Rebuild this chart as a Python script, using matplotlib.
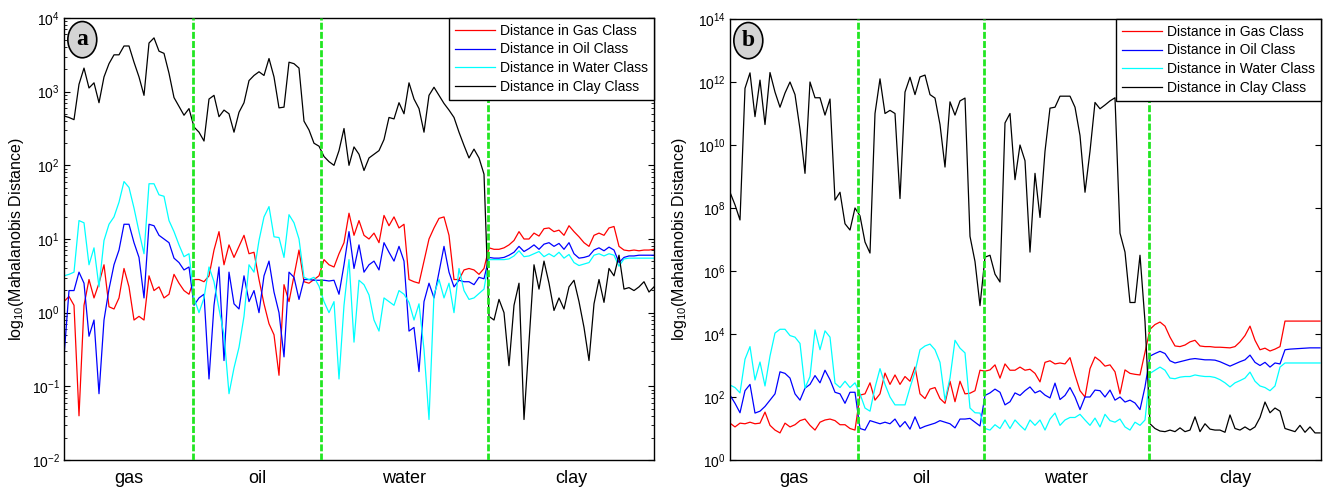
import numpy as np
import matplotlib.pyplot as plt
from matplotlib import ticker
from matplotlib.patches import Ellipse

plt.rcParams.update({
    'font.family': ['Liberation Sans', 'DejaVu Sans'],
    'mathtext.fontset': 'custom',
    'mathtext.rm': 'Liberation Sans',
    'mathtext.it': 'Liberation Sans:italic',
    'axes.linewidth': 1.0,
})

classes = ['gas', 'oil', 'water', 'clay']
labels = ['Distance in Gas Class', 'Distance in Oil Class',
          'Distance in Water Class', 'Distance in Clay Class']

# class boundaries (sample index) and right end of each panel
a_bounds = [25.8, 51.4, 84.8]
a_xmax = 118
b_bounds = [25.6, 50.8, 83.8]
b_xmax = 118.2

# ---- panel (a): log10 of distance ----
a_gas = [0.15, 0.22, 0.1, -1.4, 0.1, 0.45, 0.2, 0.4, 0.65, 0.08,
         0.05, 0.2, 0.6, 0.35, -0.1, -0.05, -0.1, 0.5, 0.3, 0.35,
         0.2, 0.25, 0.52, 0.4, 0.3, 0.25, 0.45, 0.45, 0.42, 0.5,
         0.85, 1.1, 0.65, 0.92, 0.75, 0.9, 1.05, 0.8, 0.82, 0.45,
         0.12, -0.15, -0.3, -0.85, 0.38, 0.15, 0.5, 0.85, 0.42, 0.4,
         0.45, 0.5, 0.72, 0.65, 0.62, 0.8, 0.95, 1.35, 1.05, 1.25,
         1.05, 1.0, 1.08, 0.95, 1.32, 1.18, 1.3, 1.15, 1.2, 0.45,
         0.42, 0.4, 0.7, 1.0, 1.15, 1.28, 1.3, 1.05, 0.45, 0.45,
         0.58, 0.6, 0.58, 0.52, 0.6, 0.88, 0.86, 0.86, 0.88, 0.92,
         0.98, 1.1, 1.0, 1.0, 1.08, 1.04, 1.14, 1.15, 1.1, 1.12,
         1.05, 1.18, 1.1, 1.03, 0.95, 0.9, 1.05, 1.08, 1.05, 1.15,
         1.17, 0.9, 0.85, 0.84, 0.85, 0.84, 0.85, 0.85, 0.86]
a_oil = [-0.6, 0.3, 0.3, 0.55, 0.4, -0.32, -0.1, -1.1, -0.1, 0.32,
         0.65, 0.85, 1.2, 1.2, 0.95, 0.75, 0.2, 1.2, 1.18, 1.05,
         1.0, 0.95, 0.74, 0.68, 0.58, 0.62, 0.1, 0.2, 0.25, -0.9,
         0.1, 0.62, -0.65, 0.55, 0.12, 0.05, 0.5, 0.15, 0.3, 0.0,
         0.5, 0.7, 0.28, 0.0, -0.6, 0.55, 0.48, 0.18, 0.45, 0.45,
         0.44, 0.44, 0.44, 0.43, 0.44, 0.25, 0.65, 1.1, 0.6, 0.92,
         0.55, 0.65, 0.7, 0.58, 0.95, 0.82, 0.7, 0.9, 0.7, -0.25,
         -0.2, -0.8, 0.15, 0.4, 0.2, 0.55, 0.9, 0.55, 0.35, 0.44,
         0.42, 0.42, 0.38, 0.48, 0.46, 0.75, 0.74, 0.74, 0.75, 0.78,
         0.82, 0.9, 0.83, 0.87, 0.92, 0.86, 0.93, 0.95, 0.9, 0.94,
         0.86, 0.95, 0.8, 0.74, 0.75, 0.77, 0.85, 0.88, 0.84, 0.89,
         0.85, 0.68, 0.75, 0.77, 0.77, 0.78, 0.78, 0.78, 0.78]
a_water = [0.5, 0.52, 0.55, 1.25, 1.22, 0.65, 0.88, 0.35, 0.98, 1.2,
           1.3, 1.5, 1.78, 1.7, 1.42, 1.1, 0.8, 1.75, 1.75, 1.6,
           1.58, 1.25, 1.1, 0.92, 0.76, 0.8, 0.2, 0.0, 0.2, 0.62,
           0.42, 0.05, -0.3, -1.1, -0.75, -0.47, -0.05, 0.65, 0.55, 0.98,
           1.3, 1.44, 1.03, 1.02, 0.75, 1.33, 1.22, 1.0, 0.48, 0.45,
           0.48, 0.36, 0.15, 0.0, 0.15, -0.9, 0.1, 0.72, -0.4, 0.44,
           0.38, 0.24, -0.1, -0.25, 0.2, 0.15, 0.1, 0.3, 0.25, 0.14,
           -0.1, 0.12, -0.5, -1.45, 0.25, 0.45, 0.2, 0.4, 0.0, 0.6,
           0.3, 0.18, 0.2, 0.26, 0.32, 0.72, 0.72, 0.72, 0.72, 0.73,
           0.77, 0.84, 0.76, 0.77, 0.8, 0.83, 0.76, 0.8, 0.76, 0.82,
           0.74, 0.79, 0.68, 0.64, 0.66, 0.68, 0.78, 0.8, 0.77, 0.8,
           0.78, 0.63, 0.73, 0.74, 0.74, 0.74, 0.74, 0.74, 0.74]
a_clay = [2.67, 2.65, 2.62, 3.1, 3.32, 3.05, 3.12, 2.85, 3.2, 3.38,
          3.5, 3.5, 3.62, 3.62, 3.4, 3.2, 2.95, 3.66, 3.73, 3.55,
          3.52, 3.25, 2.92, 2.8, 2.68, 2.77, 2.52, 2.45, 2.33, 2.9,
          2.95, 2.66, 2.75, 2.7, 2.45, 2.72, 2.85, 3.15, 3.22, 3.27,
          3.22, 3.45, 3.2, 2.78, 2.79, 3.4, 3.38, 3.32, 2.6, 2.48,
          2.3, 2.26, 2.12, 2.05, 2.0, 2.2, 2.5, 2.0, 2.25, 2.15,
          1.93, 2.1, 2.15, 2.2, 2.35, 2.65, 2.63, 2.85, 2.7, 3.12,
          2.9, 2.77, 2.45, 2.95, 3.06, 2.95, 2.84, 2.75, 2.65, 2.45,
          2.27, 2.1, 2.22, 2.1, 1.88, -0.05, -0.1, 0.18, 0.0, -0.72,
          0.1, 0.4, -1.45, -0.4, 0.65, 0.32, 0.7, 0.4, 0.03, 0.2,
          0.05, 0.35, 0.44, 0.15, -0.2, -0.65, 0.12, 0.45, 0.14, 0.6,
          0.5, 0.78, 0.32, 0.34, 0.3, 0.35, 0.42, 0.28, 0.35]

# ---- panel (b): log10 of distance ----
b_gas = [1.17, 1.05, 1.17, 1.15, 1.2, 1.15, 1.17, 1.52, 1.1, 0.95,
         0.86, 1.17, 1.05, 1.12, 1.25, 1.3, 1.1, 0.95, 1.2, 1.27,
         1.3, 1.25, 1.12, 1.12, 1.0, 0.95, 2.06, 2.1, 2.45, 1.9,
         2.1, 2.76, 2.4, 2.7, 2.4, 2.65, 2.5, 2.95, 2.1, 1.95,
         2.25, 2.3, 1.95, 1.8, 2.5, 1.85, 2.5, 2.1, 2.12, 2.2,
         2.85, 2.82, 2.86, 3.02, 2.6, 3.05, 2.85, 2.85, 2.95, 2.85,
         2.88, 2.75, 2.48, 3.1, 3.15, 3.05, 3.08, 3.05, 3.25, 2.7,
         2.2, 2.0, 2.9, 3.27, 3.15, 2.98, 3.02, 2.8, 2.1, 2.86,
         2.75, 2.72, 2.7, 3.42, 4.15, 4.3, 4.38, 4.25, 3.9, 3.62,
         3.6, 3.65, 3.75, 3.8, 3.62, 3.6, 3.6, 3.58, 3.58, 3.57,
         3.56, 3.6, 3.75, 3.95, 4.25, 3.8, 3.5, 3.55, 3.46, 3.52,
         3.6, 4.41, 4.41, 4.41, 4.41, 4.41, 4.41, 4.41, 4.41]
b_oil = [2.06, 1.8, 1.5, 2.2, 2.4, 1.49, 1.55, 1.7, 1.9, 2.1,
         2.8, 2.75, 2.6, 2.1, 1.9, 2.28, 2.4, 2.68, 2.45, 2.85,
         2.55, 2.15, 2.1, 1.8, 2.15, 2.15, 1.0, 0.95, 1.25, 1.2,
         1.15, 1.2, 1.15, 1.3, 1.05, 1.22, 0.98, 1.37, 1.0, 1.07,
         1.12, 1.17, 1.25, 1.2, 1.15, 1.02, 1.3, 1.3, 1.32, 1.2,
         1.08, 2.05, 2.13, 2.25, 2.15, 1.75, 1.85, 2.13, 2.05, 2.2,
         2.32, 2.13, 2.2, 2.06, 1.97, 2.44, 1.92, 2.05, 2.3, 2.0,
         1.6, 2.0, 2.0, 2.22, 2.2, 2.0, 2.22, 1.9, 2.0, 1.84,
         1.9, 1.81, 1.6, 2.32, 3.3, 3.38, 3.45, 3.38, 3.15, 3.08,
         3.12, 3.16, 3.2, 3.22, 3.2, 3.18, 3.18, 3.17, 3.12, 3.05,
         2.98, 3.05, 3.12, 3.18, 3.33, 3.1, 3.0, 3.1, 2.95, 3.08,
         3.05, 3.5, 3.52, 3.53, 3.54, 3.55, 3.56, 3.56, 3.56]
b_water = [2.38, 2.3, 2.13, 3.2, 3.6, 2.54, 3.11, 2.35, 3.3, 4.03,
           4.15, 4.15, 3.95, 3.9, 3.7, 2.28, 2.65, 4.13, 3.5, 4.1,
           3.9, 2.44, 2.3, 2.5, 2.3, 2.45, 2.1, 1.65, 1.55, 2.3,
           2.9, 2.4, 2.0, 1.75, 1.75, 1.75, 2.3, 2.8, 3.5, 3.62,
           3.68, 3.5, 3.1, 1.9, 2.6, 3.8, 3.55, 3.4, 1.65, 1.5,
           1.49, 1.0, 0.95, 1.12, 1.0, 1.27, 1.0, 1.27, 1.1, 0.95,
           1.27, 1.1, 1.27, 0.95, 1.3, 1.49, 1.1, 1.27, 1.35, 1.35,
           1.45, 1.27, 1.1, 1.33, 1.05, 1.45, 1.25, 1.2, 1.3, 1.05,
           0.95, 1.2, 1.1, 1.27, 2.75, 2.85, 2.95, 2.85, 2.6, 2.58,
           2.63, 2.65, 2.65, 2.7, 2.67, 2.65, 2.65, 2.62, 2.55, 2.45,
           2.32, 2.45, 2.52, 2.6, 2.79, 2.5, 2.35, 2.3, 2.2, 2.35,
           2.95, 3.08, 3.08, 3.08, 3.08, 3.08, 3.08, 3.08, 3.08]
b_clay = [8.5, 8.1, 7.62, 11.8, 12.29, 10.9, 12.06, 10.65, 12.3, 11.68,
          11.2, 11.65, 12.0, 11.6, 10.5, 9.1, 12.0, 11.5, 11.5, 10.95,
          11.46, 8.25, 8.5, 7.5, 7.3, 8.0, 7.75, 6.92, 6.57, 11.0,
          12.1, 11.0, 11.1, 11.0, 8.3, 11.68, 12.15, 11.6, 12.16, 12.22,
          11.6, 11.49, 10.65, 9.3, 11.37, 10.95, 11.4, 11.49, 7.1, 6.3,
          4.9, 6.44, 6.5, 5.9, 5.65, 10.7, 11.0, 8.9, 10.0, 9.5,
          6.6, 9.1, 7.7, 9.8, 11.17, 11.2, 11.55, 11.55, 11.55, 11.2,
          10.3, 8.5, 9.8, 11.35, 11.15, 11.27, 11.4, 11.5, 7.2, 6.6,
          5.0, 5.0, 6.5, 4.4, 1.15, 1.0, 0.92, 0.9, 0.95, 0.9,
          1.02, 0.9, 0.95, 1.37, 0.9, 1.15, 0.98, 0.95, 0.95, 0.88,
          1.43, 1.0, 0.95, 1.05, 0.95, 1.05, 1.35, 1.84, 1.5, 1.65,
          1.55, 1.0, 0.95, 0.9, 1.1, 0.88, 1.05, 0.86, 0.86]

colors = ['#ff0000', '#0000ff', '#00ffff', '#000000']
green = '#22e622'


def draw_panel(ax, series, bounds, xmax, ylim, letter):
    x = np.arange(len(series[0]))
    for vals, c, lab in zip(series, colors, labels):
        ax.plot(x, 10.0 ** np.array(vals), color=c, linewidth=0.9, label=lab)
    for b in bounds:
        ax.axvline(b, color=green, linewidth=2, linestyle=(0, (2.5, 0.8)), zorder=3)
    ax.set_yscale('log')
    ax.set_ylim(*ylim)
    ax.set_xlim(0, xmax)
    edges = [0] + bounds + [xmax]
    centers = [(edges[k] + edges[k + 1]) / 2 for k in range(4)]
    ax.set_xticks(centers)
    ax.set_xticklabels(classes)
    ax.tick_params(axis='x', length=0, labelsize=13, pad=7)
    ax.tick_params(axis='y', which='both', direction='in', right=True,
                   labelsize=10, pad=3)
    ax.tick_params(axis='y', which='major', length=4)
    ax.tick_params(axis='y', which='minor', length=2.5)
    ax.set_ylabel('log$_{10}$(Mahalanobis Distance)', fontsize=11.5)

    leg = ax.legend(loc='upper right', bbox_to_anchor=(1, 1), borderaxespad=0,
                    fontsize=10, fancybox=False, framealpha=1, edgecolor='black',
                    handlelength=2.9, handletextpad=0.4, labelspacing=0.35,
                    borderpad=0.4)
    leg.get_frame().set_linewidth(1.0)

    ell = Ellipse((0.031, 0.951), 0.049, 0.082, transform=ax.transAxes,
                  facecolor='#d4d4d4', edgecolor='black', linewidth=1.2, zorder=5)
    ax.add_patch(ell)
    ax.text(0.031, 0.951, letter, transform=ax.transAxes, ha='center', va='center',
            fontsize=17, fontweight='bold', family='Liberation Serif', zorder=6)


fig = plt.figure(figsize=(13.23, 4.91), dpi=100)
ax1 = fig.add_axes([64 / 1323, 31 / 491, 590 / 1323, 442 / 491])
ax2 = fig.add_axes([730 / 1323, 31 / 491, 591 / 1323, 441 / 491])

draw_panel(ax1, [a_gas, a_oil, a_water, a_clay], a_bounds, a_xmax, (1e-2, 1e4), 'a')
draw_panel(ax2, [b_gas, b_oil, b_water, b_clay], b_bounds, b_xmax, (1e0, 1e14), 'b')

ax2.set_yticks([10.0 ** k for k in range(0, 15, 2)])
ax2.yaxis.set_minor_locator(ticker.NullLocator())

ax1.yaxis.set_label_coords(-0.0644, 0.5)
ax2.yaxis.set_label_coords(-0.0694, 0.5)

fig.savefig('out.png', dpi=100)
